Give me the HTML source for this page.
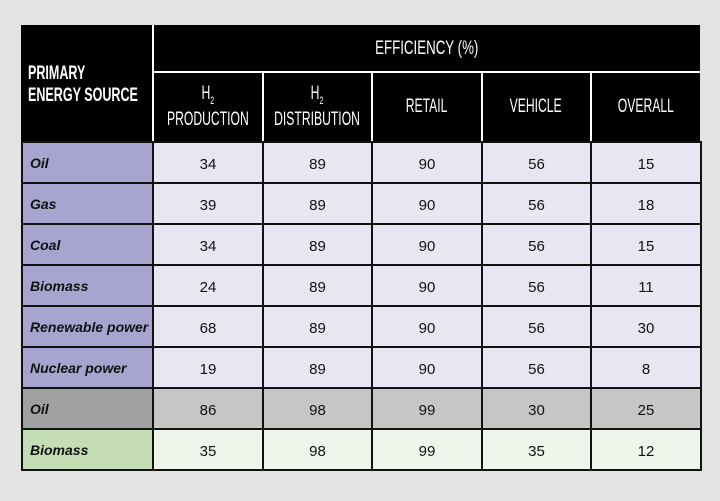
<!DOCTYPE html>
<html><head><meta charset="utf-8"><style>
body{margin:0;width:720px;height:501px;background:#e3e3e3;position:relative;overflow:hidden;font-family:"Liberation Sans",sans-serif}
.c{position:absolute;box-sizing:border-box;display:flex;align-items:center;justify-content:center}
.h{color:#fff;font-size:19px;text-align:center;line-height:20px}
.h span{display:inline-block;transform:scaleX(0.64);white-space:nowrap}
.l{justify-content:flex-start;padding-left:7px;font-weight:bold;font-style:italic;font-size:14px;color:#111}
.n{font-size:15px;color:#111;padding-top:4px}
</style></head><body>
<div class="c" style="left:21px;top:25px;width:679px;height:116px;background:#000"></div>
<div style="position:absolute;left:152px;top:25px;width:2px;height:116px;background:#fff"></div>
<div style="position:absolute;left:153px;top:71px;width:547px;height:2px;background:#fff"></div>
<div style="position:absolute;left:262px;top:72px;width:2px;height:69px;background:#fff"></div>
<div style="position:absolute;left:371px;top:72px;width:2px;height:69px;background:#fff"></div>
<div style="position:absolute;left:481px;top:72px;width:2px;height:69px;background:#fff"></div>
<div style="position:absolute;left:590px;top:72px;width:2px;height:69px;background:#fff"></div>
<div class="c h" style="left:28px;top:60px;width:124px;height:50px;justify-content:flex-start;text-align:left"><span style="transform-origin:left center;transform:scaleX(0.66);font-weight:bold;line-height:22px">PRIMARY<br>ENERGY SOURCE</span></div>
<div class="c h" style="left:153px;top:25px;width:547px;height:47px"><span style="transform:scaleX(0.7)">EFFICIENCY (%)</span></div>
<div class="c h" style="left:153px;top:73px;width:109px;height:68px"><span>H<sub style="font-size:11px">2</sub><br>PRODUCTION</span></div>
<div class="c h" style="left:263px;top:73px;width:108px;height:68px"><span>H<sub style="font-size:11px">2</sub><br>DISTRIBUTION</span></div>
<div class="c h" style="left:372px;top:73px;width:109px;height:68px"><span>RETAIL</span></div>
<div class="c h" style="left:482px;top:73px;width:108px;height:68px"><span>VEHICLE</span></div>
<div class="c h" style="left:591px;top:73px;width:109px;height:68px"><span>OVERALL</span></div>
<div id="rows"></div>
<script>
var d=[["Oil",34,89,90,56,15,0],["Gas",39,89,90,56,18,0],["Coal",34,89,90,56,15,0],["Biomass",24,89,90,56,11,0],["Renewable power",68,89,90,56,30,0],["Nuclear power",19,89,90,56,8,0],["Oil",86,98,99,30,25,1],["Biomass",35,98,99,35,12,2]];
var L=["#a7a5cf","#a0a0a0","#c4ddb4"],D=["#e8e6f3","#c6c6c6","#f0f5ec"];
var xs=[21,152,262,371,481,590,700],h="";
d.forEach(function(r,i){var y=141+i*41;
for(var j=0;j<6;j++){var bg=j==0?L[r[6]]:D[r[6]];
h+='<div class="c '+(j==0?'l':'n')+'" style="left:'+xs[j]+'px;top:'+y+'px;width:'+(xs[j+1]-xs[j]+2)+'px;height:43px;background:'+bg+';border:2px solid #111">'+r[j]+'</div>';}});
document.getElementById("rows").innerHTML=h;
</script>
</body></html>
